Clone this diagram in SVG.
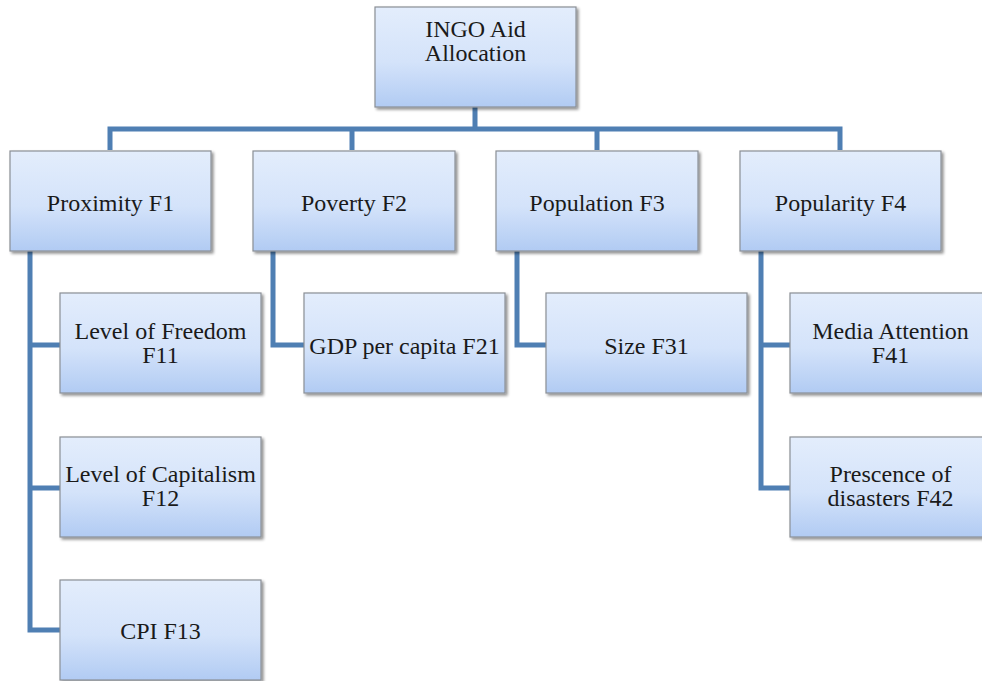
<svg xmlns="http://www.w3.org/2000/svg" width="982" height="681" viewBox="0 0 982 681">
<defs>
<linearGradient id="g" x1="0" y1="0" x2="0" y2="1">
<stop offset="0" stop-color="#e3edfc"/>
<stop offset="0.55" stop-color="#d4e3fa"/>
<stop offset="1" stop-color="#b1cbf3"/>
</linearGradient>
<filter id="sh" x="-5%" y="-5%" width="115%" height="120%">
<feGaussianBlur in="SourceAlpha" stdDeviation="1.5"/>
<feOffset dx="1.5" dy="2" result="b"/>
<feComponentTransfer><feFuncA type="linear" slope="0.45"/></feComponentTransfer>
<feMerge><feMergeNode/><feMergeNode in="SourceGraphic"/></feMerge>
</filter>
</defs>
<style>
.box{fill:url(#g);stroke:#8a8f96;stroke-width:1.2;filter:url(#sh)}
.t{font-family:"Liberation Serif","DejaVu Serif",serif;font-size:24px;fill:#1a1a1a;text-anchor:middle}
.c{fill:none;stroke:#4f7fb3;stroke-width:5;stroke-linejoin:miter}
</style>
<rect width="982" height="681" fill="#ffffff"/>
<g id="connectors">
<path class="c" d="M475,107 V129 M110,150 V129 H840 V150 M352,129 V150 M597,129 V150"/>
<path class="c" d="M30,251 V630 H60 M30,345 H60 M30,488 H60"/>
<path class="c" d="M273,251 V345 H304"/>
<path class="c" d="M517,251 V345 H546"/>
<path class="c" d="M761,251 V488 H790 M761,345 H790"/>
</g>
<g id="n-root"><rect class="box" x="375" y="7" width="201" height="100"/><text class="t" x="475.5" y="37">INGO Aid</text><text class="t" x="475.5" y="61">Allocation</text></g>
<g id="n-f1"><rect class="box" x="10" y="151" width="201" height="100"/><text class="t" x="110.5" y="211">Proximity F1</text></g>
<g id="n-f2"><rect class="box" x="253" y="151" width="202" height="100"/><text class="t" x="354" y="211">Poverty F2</text></g>
<g id="n-f3"><rect class="box" x="496" y="151" width="202" height="100"/><text class="t" x="597" y="211">Population F3</text></g>
<g id="n-f4"><rect class="box" x="740" y="151" width="201" height="100"/><text class="t" x="840.5" y="211">Popularity F4</text></g>
<g id="n-f11"><rect class="box" x="60" y="293" width="201" height="100"/><text class="t" x="160.5" y="339">Level of Freedom</text><text class="t" x="160.5" y="363">F11</text></g>
<g id="n-f12"><rect class="box" x="60" y="437" width="201" height="100"/><text class="t" x="160.5" y="482">Level of Capitalism</text><text class="t" x="160.5" y="506">F12</text></g>
<g id="n-f13"><rect class="box" x="60" y="580" width="201" height="100"/><text class="t" x="160.5" y="639">CPI F13</text></g>
<g id="n-f21"><rect class="box" x="304" y="293" width="201" height="100"/><text class="t" x="404.5" y="354">GDP per capita F21</text></g>
<g id="n-f31"><rect class="box" x="546" y="293" width="201" height="100"/><text class="t" x="646.5" y="354">Size F31</text></g>
<g id="n-f41"><rect class="box" x="790" y="293" width="201" height="100"/><text class="t" x="890.5" y="339">Media Attention</text><text class="t" x="890.5" y="363">F41</text></g>
<g id="n-f42"><rect class="box" x="790" y="437" width="201" height="100"/><text class="t" x="890.5" y="482">Prescence of</text><text class="t" x="890.5" y="506">disasters F42</text></g>
</svg>
